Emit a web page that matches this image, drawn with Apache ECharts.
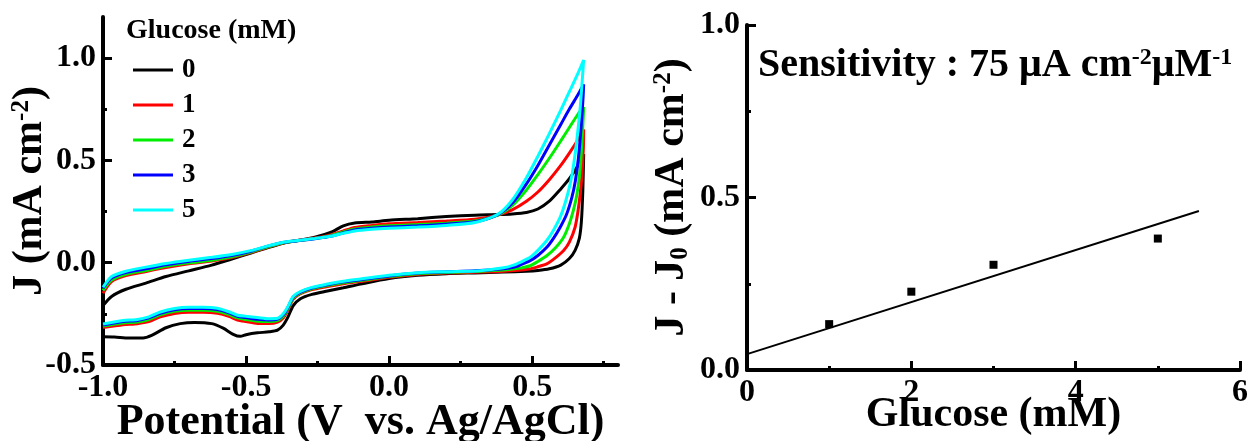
<!DOCTYPE html>
<html>
<head>
<meta charset="utf-8">
<script src="https://cdn.jsdelivr.net/npm/echarts@6/dist/echarts.min.js"></script>
<style>
  html, body { margin: 0; padding: 0; background: #ffffff; }
  #chart { width: 1250px; height: 441px; }
</style>
</head>
<body>
<div id="chart"></div>
<script>
// Cyclic voltammograms at several glucose concentrations (left) and the calibration plot (right)
const FONT = '"Liberation Serif", "Times New Roman", serif';

const concentrations = ['0', '1', '2', '3', '5'];
const curveColors = ['#000000', '#ff0000', '#00ee00', '#0000ff', '#00ffff'];

// anodic sweep potentials (V vs. Ag/AgCl), shared by every curve
const fwdPotential = [-1.0, -0.97, -0.92, -0.85, -0.78, -0.70, -0.62, -0.55, -0.48, -0.42, -0.37, -0.32, -0.26, -0.20, -0.16, -0.12, -0.06, 0.0, 0.1, 0.2, 0.3, 0.38, 0.43, 0.48, 0.52, 0.56, 0.60, 0.63, 0.66, 0.68];

// anodic sweep current density (mA cm-2)
const fwd0 = [-0.21, -0.165, -0.13, -0.10, -0.068, -0.04, -0.012, 0.018, 0.048, 0.075, 0.095, 0.108, 0.124, 0.150, 0.180, 0.194, 0.199, 0.207, 0.215, 0.225, 0.232, 0.235, 0.238, 0.245, 0.262, 0.30, 0.36, 0.41, 0.475, 0.53];
const fwd1 = [-0.15, -0.092, -0.063, -0.043, -0.024, -0.006, 0.008, 0.025, 0.05, 0.077, 0.096, 0.108, 0.12, 0.137, 0.155, 0.172, 0.182, 0.19, 0.196, 0.203, 0.212, 0.232, 0.258, 0.30, 0.345, 0.405, 0.475, 0.535, 0.60, 0.65];
const fwd2 = [-0.135, -0.085, -0.057, -0.038, -0.018, -0.001, 0.012, 0.029, 0.053, 0.079, 0.097, 0.107, 0.118, 0.133, 0.15, 0.165, 0.174, 0.18, 0.186, 0.193, 0.203, 0.232, 0.278, 0.355, 0.43, 0.51, 0.595, 0.66, 0.725, 0.76];
const fwd3 = [-0.125, -0.075, -0.048, -0.03, -0.01, 0.006, 0.02, 0.035, 0.057, 0.082, 0.099, 0.107, 0.117, 0.13, 0.145, 0.16, 0.168, 0.174, 0.18, 0.188, 0.2, 0.235, 0.29, 0.385, 0.475, 0.575, 0.675, 0.75, 0.82, 0.87];
const fwd5 = [-0.12, -0.068, -0.042, -0.022, -0.004, 0.012, 0.026, 0.04, 0.06, 0.083, 0.1, 0.108, 0.118, 0.13, 0.143, 0.155, 0.163, 0.168, 0.174, 0.182, 0.196, 0.236, 0.305, 0.415, 0.52, 0.63, 0.745, 0.835, 0.925, 0.99];

// cathodic (return) sweep: [potential, current density]
const rev0 = [[0.68, 0.53], [0.677, 0.35], [0.672, 0.2], [0.665, 0.12], [0.65, 0.06], [0.63, 0.02], [0.60, -0.012], [0.56, -0.03], [0.52, -0.038], [0.48, -0.042], [0.40, -0.046], [0.30, -0.05], [0.20, -0.054], [0.10, -0.062], [0.0, -0.078], [-0.10, -0.105], [-0.16, -0.123], [-0.22, -0.14], [-0.27, -0.155], [-0.31, -0.176], [-0.335, -0.21], [-0.355, -0.27], [-0.37, -0.305], [-0.39, -0.33], [-0.42, -0.338], [-0.46, -0.343], [-0.50, -0.352], [-0.52, -0.36], [-0.545, -0.35], [-0.58, -0.32], [-0.62, -0.298], [-0.68, -0.292], [-0.73, -0.298], [-0.78, -0.318], [-0.83, -0.355], [-0.86, -0.368], [-0.91, -0.368], [-0.96, -0.363], [-1.0, -0.362]];
const rev1 = [[0.68, 0.65], [0.679, 0.56], [0.674, 0.43], [0.668, 0.337], [0.66, 0.25], [0.65, 0.173], [0.63, 0.10], [0.61, 0.059], [0.58, 0.022], [0.551, -0.006], [0.52, -0.02], [0.49, -0.031], [0.40, -0.042], [0.30, -0.047], [0.20, -0.051], [0.10, -0.058], [0.0, -0.072], [-0.10, -0.092], [-0.16, -0.103], [-0.22, -0.118], [-0.27, -0.132], [-0.31, -0.152], [-0.335, -0.178], [-0.355, -0.235], [-0.37, -0.27], [-0.39, -0.29], [-0.42, -0.297], [-0.46, -0.297], [-0.50, -0.288], [-0.53, -0.28], [-0.56, -0.262], [-0.60, -0.247], [-0.65, -0.242], [-0.70, -0.242], [-0.75, -0.248], [-0.80, -0.265], [-0.84, -0.288], [-0.88, -0.298], [-0.93, -0.303], [-1.0, -0.317]];
const rev2 = [[0.68, 0.76], [0.678, 0.70], [0.673, 0.56], [0.666, 0.435], [0.656, 0.33], [0.644, 0.255], [0.63, 0.19], [0.61, 0.124], [0.58, 0.07], [0.551, 0.034], [0.52, 0.006], [0.493, -0.015], [0.45, -0.028], [0.40, -0.036], [0.30, -0.043], [0.20, -0.048], [0.10, -0.054], [0.0, -0.068], [-0.10, -0.087], [-0.16, -0.098], [-0.22, -0.113], [-0.27, -0.128], [-0.31, -0.148], [-0.335, -0.173], [-0.355, -0.228], [-0.37, -0.262], [-0.39, -0.283], [-0.42, -0.288], [-0.46, -0.286], [-0.50, -0.278], [-0.53, -0.27], [-0.56, -0.253], [-0.60, -0.237], [-0.65, -0.232], [-0.70, -0.232], [-0.75, -0.238], [-0.80, -0.255], [-0.84, -0.278], [-0.88, -0.29], [-0.93, -0.295], [-1.0, -0.31]];
const rev3 = [[0.68, 0.87], [0.678, 0.81], [0.672, 0.68], [0.662, 0.516], [0.651, 0.40], [0.639, 0.32], [0.62, 0.235], [0.598, 0.173], [0.575, 0.12], [0.551, 0.075], [0.52, 0.035], [0.493, 0.01], [0.46, -0.01], [0.435, -0.023], [0.40, -0.03], [0.30, -0.04], [0.20, -0.045], [0.10, -0.051], [0.0, -0.065], [-0.10, -0.083], [-0.16, -0.094], [-0.22, -0.109], [-0.27, -0.124], [-0.31, -0.144], [-0.335, -0.168], [-0.355, -0.222], [-0.37, -0.255], [-0.39, -0.276], [-0.42, -0.28], [-0.46, -0.277], [-0.50, -0.268], [-0.53, -0.262], [-0.56, -0.245], [-0.60, -0.229], [-0.65, -0.224], [-0.70, -0.224], [-0.75, -0.23], [-0.80, -0.247], [-0.84, -0.27], [-0.88, -0.283], [-0.93, -0.288], [-1.0, -0.305]];
const rev5 = [[0.68, 0.99], [0.677, 0.93], [0.668, 0.76], [0.656, 0.598], [0.645, 0.48], [0.633, 0.386], [0.615, 0.29], [0.598, 0.222], [0.575, 0.16], [0.551, 0.108], [0.52, 0.06], [0.493, 0.026], [0.46, 0.003], [0.435, -0.012], [0.40, -0.025], [0.318, -0.039], [0.20, -0.044], [0.10, -0.049], [0.0, -0.062], [-0.10, -0.08], [-0.16, -0.091], [-0.22, -0.106], [-0.27, -0.121], [-0.31, -0.141], [-0.335, -0.165], [-0.355, -0.218], [-0.37, -0.25], [-0.39, -0.272], [-0.42, -0.274], [-0.46, -0.268], [-0.50, -0.262], [-0.53, -0.257], [-0.56, -0.24], [-0.60, -0.223], [-0.65, -0.218], [-0.70, -0.218], [-0.75, -0.224], [-0.80, -0.241], [-0.84, -0.265], [-0.88, -0.278], [-0.93, -0.283], [-1.0, -0.30]];

// calibration: current increase vs. glucose concentration
const glucoseConc = [1, 2, 3, 5];
const deltaJ = [0.133, 0.227, 0.305, 0.381];
const fitConc = [0, 5.5];
const fitDeltaJ = [0.046, 0.461];

// axis ticks
const cvXTicks = [-1.0, -0.5, 0.0, 0.5];
const cvXMinor = [-0.75, -0.25, 0.25, 0.75];
const cvYTicks = [-0.5, 0.0, 0.5, 1.0];
const cvYMinor = [-0.25, 0.25, 0.75];
const calXTicks = [0, 2, 4, 6];
const calXMinor = [1, 3, 5];
const calYTicks = [0.0, 0.5, 1.0];
const calYMinor = [0.25, 0.75];

const fwdCurrents = [fwd0, fwd1, fwd2, fwd3, fwd5];
const revSweeps = [rev0, rev1, rev2, rev3, rev5];

const labelStyle = { fontFamily: FONT, fontWeight: 'bold', color: '#000' };

function majorAxis(gridIndex, position, min, max, ticks, fmt, extra) {
  return Object.assign({
    type: 'value', gridIndex, position, min, max,
    nameMoveOverlap: false,
    axisLine: { show: true, onZero: false, lineStyle: { color: '#000', width: 4 } },
    axisTick: { show: true, inside: true, length: 9, customValues: ticks, lineStyle: { color: '#000', width: 3 } },
    axisLabel: Object.assign({ customValues: ticks, formatter: fmt, fontSize: 32, margin: 7 }, labelStyle),
    splitLine: { show: false }
  }, extra);
}

function minorAxis(gridIndex, position, min, max, ticks) {
  return {
    type: 'value', gridIndex, position, min, max, offset: 0,
    axisLine: { show: false, onZero: false },
    axisTick: { show: true, inside: true, length: 4, customValues: ticks, lineStyle: { color: '#000', width: 3 } },
    axisLabel: { show: false },
    splitLine: { show: false }
  };
}

// raised and lowered fragments for superscript / subscript
const nameRich = {
  t: { fontSize: 42, lineHeight: 42, fontFamily: FONT, fontWeight: 'bold', color: '#000' },
  sup: { fontSize: 25, lineHeight: 14, padding: [0, 0, 12, 0], fontFamily: FONT, fontWeight: 'bold', color: '#000', verticalAlign: 'top' },
  sub: { fontSize: 25, lineHeight: 25, fontFamily: FONT, fontWeight: 'bold', color: '#000', verticalAlign: 'bottom' }
};

const cvSeries = concentrations.map((c, i) => ({
  name: c,
  type: 'line',
  xAxisIndex: 0,
  yAxisIndex: 0,
  data: fwdPotential.map((v, k) => [v, fwdCurrents[i][k]]).concat(revSweeps[i]),
  showSymbol: false,
  symbol: 'none',
  smooth: 0.25,
  color: curveColors[i],
  lineStyle: { color: curveColors[i], width: 3 },
  z: 2 + i
}));

const option = {
  animation: false,
  backgroundColor: '#ffffff',
  grid: [
    { left: 103, top: 17, width: 515, height: 348, outerBoundsMode: 'none', containLabel: false },
    { left: 747, top: 25, width: 493, height: 345, outerBoundsMode: 'none', containLabel: false }
  ],
  title: [
    {
      text: 'Glucose (mM)', left: 126, top: 17, padding: 0,
      textStyle: { fontSize: 28, fontFamily: FONT, fontWeight: 'bold', color: '#000' }
    },
    {
      text: '{m|Sensitivity : 75 \u03bcA cm}{s|-2}{m|\u03bcM}{s|-1}', left: 758, top: 46, padding: 0,
      textStyle: {
        rich: {
          m: { fontSize: 40, lineHeight: 40, fontFamily: FONT, fontWeight: 'bold', color: '#000' },
          s: { fontSize: 24, lineHeight: 12, padding: [0, 0, 14, 0], fontFamily: FONT, fontWeight: 'bold', color: '#000', verticalAlign: 'top' }
        }
      }
    }
  ],
  legend: {
    data: concentrations,
    orient: 'vertical',
    left: 128, top: 51,
    icon: 'rect',
    itemWidth: 40, itemHeight: 3,
    itemGap: 7,
    textStyle: { fontSize: 27, lineHeight: 28, fontFamily: FONT, fontWeight: 'bold', color: '#000', padding: [0, 0, 0, 4] }
  },
  xAxis: [
    majorAxis(0, 'bottom', -1.0, 0.8, cvXTicks, v => v.toFixed(1), {
      name: 'Potential (V  vs. Ag/AgCl)', nameLocation: 'middle', nameGap: 36,
      nameTextStyle: { fontSize: 44, fontFamily: FONT, fontWeight: 'bold', color: '#000' }
    }),
    minorAxis(0, 'bottom', -1.0, 0.8, cvXMinor),
    majorAxis(1, 'bottom', 0, 6, calXTicks, v => String(v), {
      name: 'Glucose (mM)', nameLocation: 'middle', nameGap: 24,
      nameTextStyle: { fontSize: 42, fontFamily: FONT, fontWeight: 'bold', color: '#000' }
    }),
    minorAxis(1, 'bottom', 0, 6, calXMinor)
  ],
  yAxis: [
    majorAxis(0, 'left', -0.5, 1.2, cvYTicks, v => v.toFixed(1), {
      name: '{t|J (mA cm}{sup|-2}{t|)}', nameLocation: 'middle', nameGap: 52,
      nameTextStyle: { rich: nameRich }
    }),
    minorAxis(0, 'left', -0.5, 1.2, cvYMinor),
    majorAxis(1, 'left', 0, 1.0, calYTicks, v => v.toFixed(1), {
      name: '{t|J - J}{sub|0}{t| (mA cm}{sup|-2}{t|)}', nameLocation: 'middle', nameGap: 54,
      nameTextStyle: { rich: nameRich }
    }),
    minorAxis(1, 'left', 0, 1.0, calYMinor)
  ],
  series: cvSeries.concat([
    {
      name: 'fit',
      type: 'line',
      xAxisIndex: 2, yAxisIndex: 2,
      data: fitConc.map((x, k) => [x, fitDeltaJ[k]]),
      showSymbol: false, symbol: 'none',
      lineStyle: { color: '#000', width: 2 },
      z: 3
    },
    {
      name: 'response',
      type: 'scatter',
      xAxisIndex: 2, yAxisIndex: 2,
      data: glucoseConc.map((x, k) => [x, deltaJ[k]]),
      symbol: 'rect', symbolSize: 8,
      itemStyle: { color: '#000', opacity: 1 },
      z: 4
    }
  ])
};

const chart = echarts.init(document.getElementById('chart'), null, { renderer: 'canvas' });
chart.setOption(option);
</script>
</body>
</html>
